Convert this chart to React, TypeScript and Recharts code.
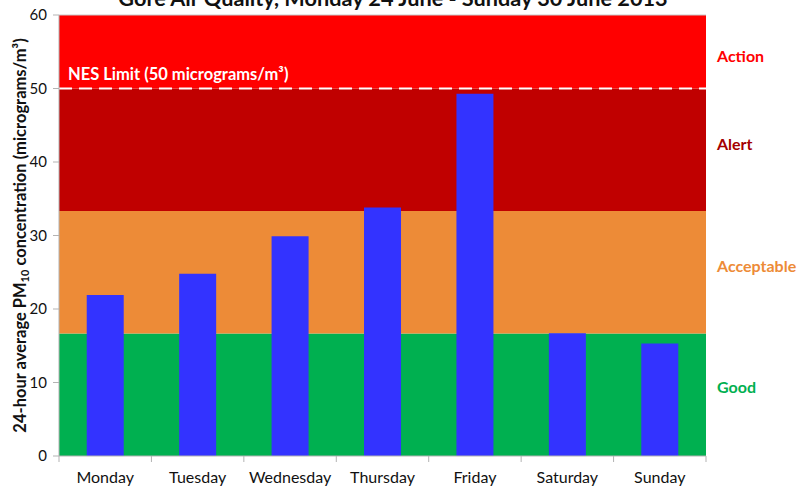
import React from 'react';
import { BarChart, Bar, XAxis, YAxis, ReferenceArea, ReferenceLine } from 'recharts';

const days = ['Monday', 'Tuesday', 'Wednesday', 'Thursday', 'Friday', 'Saturday', 'Sunday'];
const pm10 = [21.9, 24.8, 29.9, 33.8, 49.3, 16.7, 15.3];
const yTicks = [0, 10, 20, 30, 40, 50, 60];
const bandLimits = [0, 16.67, 33.33, 50, 60];
const bandNames = ['Good', 'Acceptable', 'Alert', 'Action'];
const nesLimit = 50;
const nesLabel = 'NES Limit (50 micrograms/m³)';
const title = 'Gore Air Quality, Monday 24 June - Sunday 30 June 2013';

const bandFill = ['#00B050', '#ED8B37', '#C00000', '#FF0000'];
const bandText = ['#00B050', '#ED8B37', '#A50000', '#FF0000'];
const bandLabelDy = [-7, -6, -5, 5];

const data = days.map((d, i) => ({ day: d, value: pm10[i] }));

const W = 808;
const H = 488;
const margin = { top: 15, right: 102, bottom: 0, left: 0 };
const yAxisW = 59;
const band = (W - margin.left - margin.right - yAxisW) / days.length;
const FONT = 'Lato, "Open Sans", sans-serif';
const AXIS = '#B3B3B3';

const XTick = (props: any) => {
  const { x, y, payload, index } = props;
  return (
    <g>
      <line x1={x - band / 2} x2={x - band / 2} y1={y} y2={y + 6} stroke={AXIS} />
      {index === days.length - 1 && (
        <line x1={x + band / 2} x2={x + band / 2} y1={y} y2={y + 6} stroke={AXIS} />
      )}
      <text x={x} y={y + 27} textAnchor="middle" fontSize={16} fill="#111" fontFamily={FONT}>
        {payload.value}
      </text>
    </g>
  );
};

const YTitle = (props: any) => {
  const vb = props.viewBox || {};
  const cy = (vb.y ?? 15) + (vb.height ?? 441) / 2;
  const cx = 20;
  return (
    <text
      x={cx}
      y={cy}
      transform={`rotate(-90 ${cx} ${cy})`}
      textAnchor="middle"
      dominantBaseline="central"
      fontSize={16.5}
      fontWeight="bold"
      fill="#111"
      fontFamily={FONT}
    >
      <tspan>24-hour average PM</tspan>
      <tspan fontSize={11} dy={4}>10</tspan>
      <tspan dy={-4}>{' concentration  (micrograms/m³)'}</tspan>
    </text>
  );
};

export default function App() {
  return (
    <div style={{ position: 'absolute', left: 0, top: 0, width: W, height: H }}>
      <BarChart width={W} height={H} data={data} margin={margin} barCategoryGap="30%">
        {bandNames.map((name, i) => (
          <ReferenceArea
            key={name}
            y1={bandLimits[i]}
            y2={bandLimits[i + 1]}
            fill={bandFill[i]}
            fillOpacity={1}
            stroke="none"
            ifOverflow="visible"
            label={{
              value: name,
              position: 'right',
              offset: 11,
              dy: bandLabelDy[i],
              fill: bandText[i],
              fontWeight: 'bold',
              fontSize: 16,
              fontFamily: FONT,
            }}
          />
        ))}
        <ReferenceLine y={60} stroke="#C8C8C8" strokeWidth={1} />
        <ReferenceLine
          y={nesLimit}
          stroke="#FFFFFF"
          strokeWidth={2}
          strokeDasharray="13 7"
          label={{
            value: nesLabel,
            position: 'insideBottomLeft',
            offset: 9,
            fill: '#FFFFFF',
            fontWeight: 'bold',
            fontSize: 16.5,
            fontFamily: FONT,
          }}
        />
        <XAxis
          dataKey="day"
          height={32}
          tickSize={0}
          tickMargin={0}
          tickLine={false}
          axisLine={{ stroke: AXIS }}
          tick={<XTick />}
          interval={0}
        />
        <YAxis
          width={yAxisW}
          domain={[0, 60]}
          ticks={yTicks}
          tickSize={6}
          tickMargin={6}
          axisLine={{ stroke: AXIS }}
          tickLine={{ stroke: AXIS }}
          tick={{ fontSize: 15, fill: '#111', fontFamily: FONT }}
          label={<YTitle />}
        />
        <Bar dataKey="value" fill="#3333FF" isAnimationActive={false} />
      </BarChart>
      <svg width={W} height={20} style={{ position: 'absolute', left: 0, top: 0 }}>
        <text x={393} y={6} textAnchor="middle" fontSize={21.7} fontWeight="bold" fill="#111" fontFamily={FONT}>
          {title}
        </text>
      </svg>
    </div>
  );
}
